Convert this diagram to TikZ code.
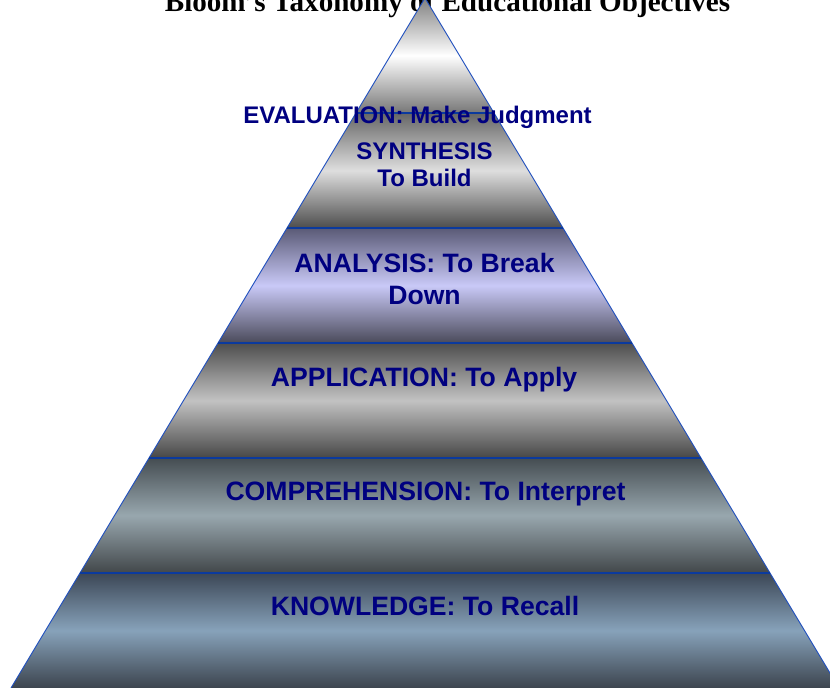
\documentclass[tikz,border=0pt]{standalone}
\usepackage{fontspec}
\setmainfont{Liberation Serif}
\newfontfamily\lblfont{Liberation Sans}
\definecolor{navytext}{RGB}{0,0,128}
\definecolor{edgeblue}{RGB}{31,79,191}
\definecolor{sepblue}{RGB}{11,58,158}
\definecolor{evT}{RGB}{128,128,128}\definecolor{evM}{RGB}{255,255,255}\definecolor{evB}{RGB}{119,119,119}
\definecolor{syT}{RGB}{102,102,102}\definecolor{syM}{RGB}{222,222,222}\definecolor{syB}{RGB}{77,77,77}
\definecolor{anT}{RGB}{90,90,118}\definecolor{anM}{RGB}{201,201,247}\definecolor{anB}{RGB}{74,74,90}
\definecolor{apT}{RGB}{78,78,78}\definecolor{apM}{RGB}{194,194,194}\definecolor{apB}{RGB}{71,71,71}
\definecolor{coT}{RGB}{69,77,82}\definecolor{coM}{RGB}{152,167,174}\definecolor{coB}{RGB}{66,71,74}
\definecolor{knT}{RGB}{60,71,86}\definecolor{knM}{RGB}{135,162,186}\definecolor{knB}{RGB}{60,68,78}
\begin{document}
\begin{tikzpicture}[x=1pt,y=-1pt,
  biglabel/.style={font=\lblfont\bfseries\fontsize{26.6}{30}\selectfont, text=navytext, inner sep=0pt, anchor=base},
  smalllabel/.style={font=\lblfont\bfseries\fontsize{24}{27}\selectfont, text=navytext, inner sep=0pt, anchor=base},
  edgeline/.style={draw=edgeblue, line width=0.9pt},
  sepline/.style={draw=sepblue, line width=2pt}]
\useasboundingbox (0,0) rectangle (830,688);
\clip (0,0) rectangle (830,688);
\node[font=\bfseries\fontsize{29.1}{32}\selectfont, anchor=base, inner sep=0pt] (title) at (447.5,12) {Bloom's Taxonomy of Educational Objectives};
% corners
\coordinate (A) at (425,-2);
\foreach \i in {1,...,6}{
  \coordinate (L\i) at ({425-69*\i},{-2+115*\i});
  \coordinate (R\i) at ({425+69*\i},{-2+115*\i});
}
% bands
\shade[top color=evT, bottom color=evB, middle color=evM] (A) -- (R1) -- (L1) -- cycle;
\shade[top color=syT, bottom color=syB, middle color=syM] (L1) -- (R1) -- (R2) -- (L2) -- cycle;
\shade[top color=anT, bottom color=anB, middle color=anM] (L2) -- (R2) -- (R3) -- (L3) -- cycle;
\shade[top color=apT, bottom color=apB, middle color=apM] (L3) -- (R3) -- (R4) -- (L4) -- cycle;
\shade[top color=coT, bottom color=coB, middle color=coM] (L4) -- (R4) -- (R5) -- (L5) -- cycle;
\shade[top color=knT, bottom color=knB, middle color=knM] (L5) -- (R5) -- (R6) -- (L6) -- cycle;
% outlines
\draw[edgeline] (L6) -- (A) -- (R6);
\foreach \i in {1,...,5}{ \draw[sepline] (L\i) -- (R\i); }
% labels
\node[smalllabel] (eval) at (417.5,123.3) {EVALUATION: Make Judgment};
\node[smalllabel] (syn1) at (424.5,159) {SYNTHESIS};
\node[smalllabel] (syn2) at (424.5,186) {To Build};
\node[biglabel] (ana1) at (424.5,272.7) {ANALYSIS: To Break};
\node[biglabel] (ana2) at (424.5,304) {Down};
\node[biglabel] (app) at (424,386) {APPLICATION: To Apply};
\node[biglabel] (comp) at (425.5,500) {COMPREHENSION: To Interpret};
\node[biglabel] (know) at (425,615) {KNOWLEDGE: To Recall};
\end{tikzpicture}
\end{document}
